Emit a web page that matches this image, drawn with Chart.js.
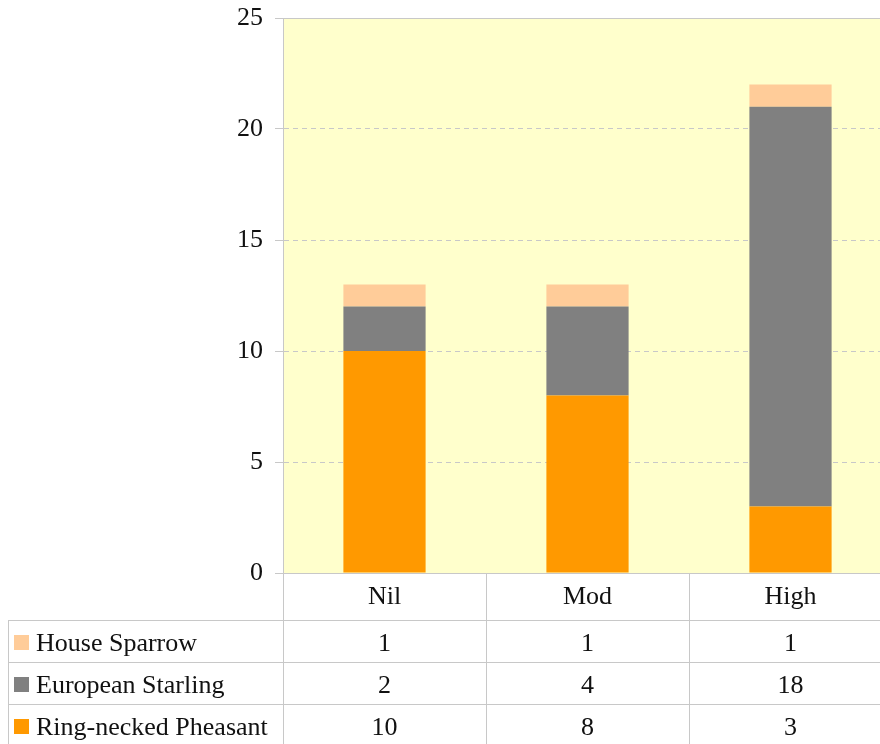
<!DOCTYPE html>
<html>
<head>
<meta charset="utf-8">
<script src="https://cdn.jsdelivr.net/npm/chart.js@4.4.0/dist/chart.umd.min.js"></script>
<style>
  html, body { margin: 0; padding: 0; background: #fff; overflow: hidden; }
  #wrap { width: 892px; height: 744px; }
</style>
</head>
<body>
<div id="wrap"><canvas id="birds" width="892" height="744"></canvas></div>
<script>
"use strict";
// categories + series
const categories = ["Nil", "Mod", "High"];
const pheasant = [10, 8, 3];
const starling = [2, 4, 18];
const sparrow = [1, 1, 1];
const yTicks = [0, 5, 10, 15, 20, 25];

const FONT = "'Liberation Serif', 'Times New Roman', serif";
const LINE = "#c8c8c8";

const series = [
    { label: "Ring-necked Pheasant", data: pheasant, color: "#FF9900" },
    { label: "European Starling", data: starling, color: "#808080" },
    { label: "House Sparrow", data: sparrow, color: "#FFCC99" }
];

// yellow plot area
const plotBg = {
    id: "plotBg",
    beforeDraw(chart) {
        const a = chart.chartArea, c = chart.ctx;
        c.save();
        c.fillStyle = "#FFFFCC";
        c.fillRect(a.left, a.top, a.right - a.left, a.bottom - a.top);
        c.restore();
    }
};

// data table under the plot
const dataTable = {
    id: "dataTable",
    afterDraw(chart) {
        const c = chart.ctx, a = chart.chartArea, x = chart.scales.x;
        const step = (a.right - a.left) / categories.length;
        const headBottom = a.bottom + 47;
        const rowH = 42;
        c.save();
        c.strokeStyle = LINE;
        c.lineWidth = 1;
        // vertical lines
        for (let i = 0; i < categories.length; i++) {
            const bx = Math.round(a.left + i * step) + 0.5;
            c.beginPath(); c.moveTo(bx, a.bottom); c.lineTo(bx, 744); c.stroke();
        }
        c.beginPath(); c.moveTo(8.5, headBottom); c.lineTo(8.5, 744); c.stroke();
        // horizontal lines
        for (let r = 0; r < series.length; r++) {
            const y = Math.round(headBottom + r * rowH) + 0.5;
            c.beginPath(); c.moveTo(8, y); c.lineTo(chart.width, y); c.stroke();
        }
        c.font = "26px " + FONT;
        c.fillStyle = "#111";
        c.textAlign = "center";
        c.textBaseline = "middle";
        categories.forEach((cat, i) => {
            c.fillText(cat, x.getPixelForValue(i), a.bottom + 24);
        });
        // rows, top to bottom: reverse of stack order
        const rows = series.slice().reverse();
        rows.forEach((s, r) => {
            const cy = headBottom + r * rowH + rowH / 2 + 3;
            c.fillStyle = s.color;
            c.fillRect(14, Math.round(cy - 9), 15, 15);
            c.fillStyle = "#111";
            c.textAlign = "left";
            c.fillText(s.label, 36, cy);
            c.textAlign = "center";
            s.data.forEach((v, i) => c.fillText(String(v), x.getPixelForValue(i), cy));
        });
        c.restore();
    }
};

const ctx = document.getElementById("birds").getContext("2d");
new Chart(ctx, {
    type: "bar",
    data: {
        labels: categories,
        datasets: series.map(s => ({
            label: s.label,
            data: s.data,
            backgroundColor: s.color,
            borderWidth: 0,
            categoryPercentage: 1,
            barPercentage: 0.405
        }))
    },
    options: {
        responsive: false,
        animation: false,
        layout: { padding: { top: 18, bottom: 171, right: 0, left: 0 } },
        plugins: { legend: { display: false }, tooltip: { enabled: false } },
        scales: {
            x: { stacked: true, display: false },
            y: {
                stacked: true,
                min: 0,
                max: 25,
                afterFit: sc => { sc.width = 283; sc.paddingTop = 0; sc.paddingBottom = 0; },
                afterBuildTicks: sc => { sc.ticks = yTicks.map(v => ({ value: v })); },
                ticks: { color: "#111", font: { family: FONT, size: 26 }, padding: 12 },
                grid: { color: LINE, tickLength: 8, tickColor: LINE },
                border: {
                    color: LINE,
                    dash: c => (c.tick && (c.tick.value === 0 || c.tick.value === 25)) ? [] : [5, 4]
                }
            }
        }
    },
    plugins: [plotBg, dataTable]
});
</script>
</body>
</html>
